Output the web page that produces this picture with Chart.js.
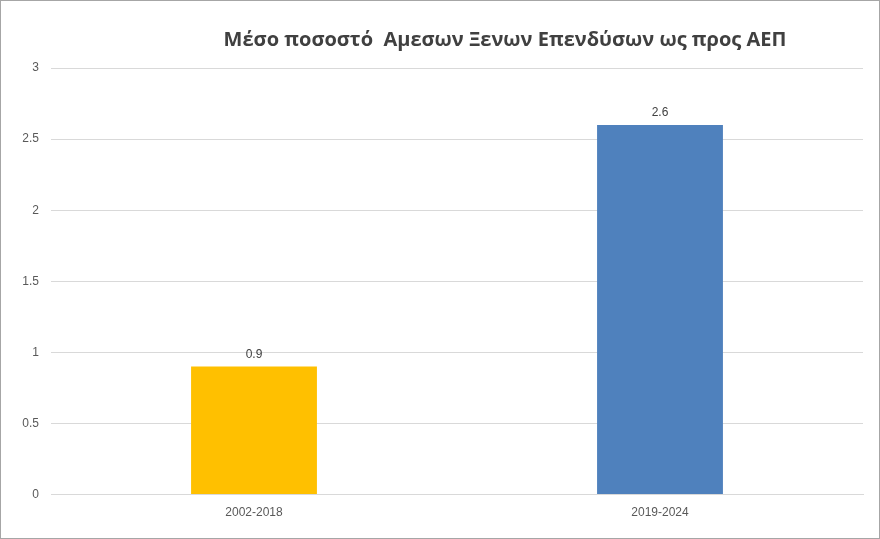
<!DOCTYPE html>
<html>
<head>
<meta charset="utf-8">
<script src="https://cdn.jsdelivr.net/npm/chart.js@4"></script>
<style>
  html, body { margin: 0; padding: 0; background: #fff; }
  #wrap { width: 878px; height: 537px; border: 1px solid #a6a6a6; position: relative; }
</style>
</head>
<body>
<div id="wrap"><canvas id="c" width="878" height="537"></canvas></div>
<script>
// Μέσο ποσοστό ΑΞΕ ως προς ΑΕΠ
const categories = ['2002-2018', '2019-2024'];
const values = [0.9, 2.6];
const barColors = ['#FFC000', '#4F81BD'];
const titleText = 'Μέσο ποσοστό  Αμεσων Ξενων Επενδύσων ως προς ΑΕΠ';

// τίτλος και ετικέτες τιμών
const extras = {
    id: 'extras',
    afterDatasetsDraw(chart) {
        const ctx = chart.ctx;
        ctx.save();
        ctx.font = 'bold 20px "Open Sans", "Noto Sans", sans-serif';
        ctx.fillStyle = '#404040';
        ctx.textAlign = 'center';
        ctx.textBaseline = 'middle';
        ctx.fillText(titleText, 504, 39);

        ctx.font = '12px "Liberation Sans", Arial, sans-serif';
        ctx.textBaseline = 'bottom';
        chart.getDatasetMeta(0).data.forEach((bar, i) => {
            ctx.fillText(String(values[i]), bar.x, bar.y - 6);
        });
        ctx.restore();
    }
};

new Chart(document.getElementById('c'), {
    type: 'bar',
    data: {
        labels: categories,
        datasets: [{
            data: values,
            backgroundColor: barColors,
            categoryPercentage: 1,
            barPercentage: 0.31
        }]
    },
    options: {
        responsive: false,
        animation: false,
        layout: { padding: { left: 0, right: 16, top: 67, bottom: 15 } },
        plugins: {
            legend: { display: false },
            tooltip: { enabled: false }
        },
        scales: {
            x: {
                grid: { display: false },
                border: { color: '#d9d9d9' },
                ticks: { color: '#595959', font: { family: '"Liberation Sans", Arial, sans-serif', size: 12 } }
            },
            y: {
                min: 0,
                max: 3,
                afterFit(scale) { scale.width = 50; },
                ticks: {
                    stepSize: 0.5,
                    color: '#595959',
                    padding: 12,
                    callback: v => String(v),
                    font: { family: '"Liberation Sans", Arial, sans-serif', size: 12 }
                },
                grid: { color: '#d9d9d9', drawTicks: false },
                border: { display: false }
            }
        }
    },
    plugins: [extras]
});
</script>
</body>
</html>
